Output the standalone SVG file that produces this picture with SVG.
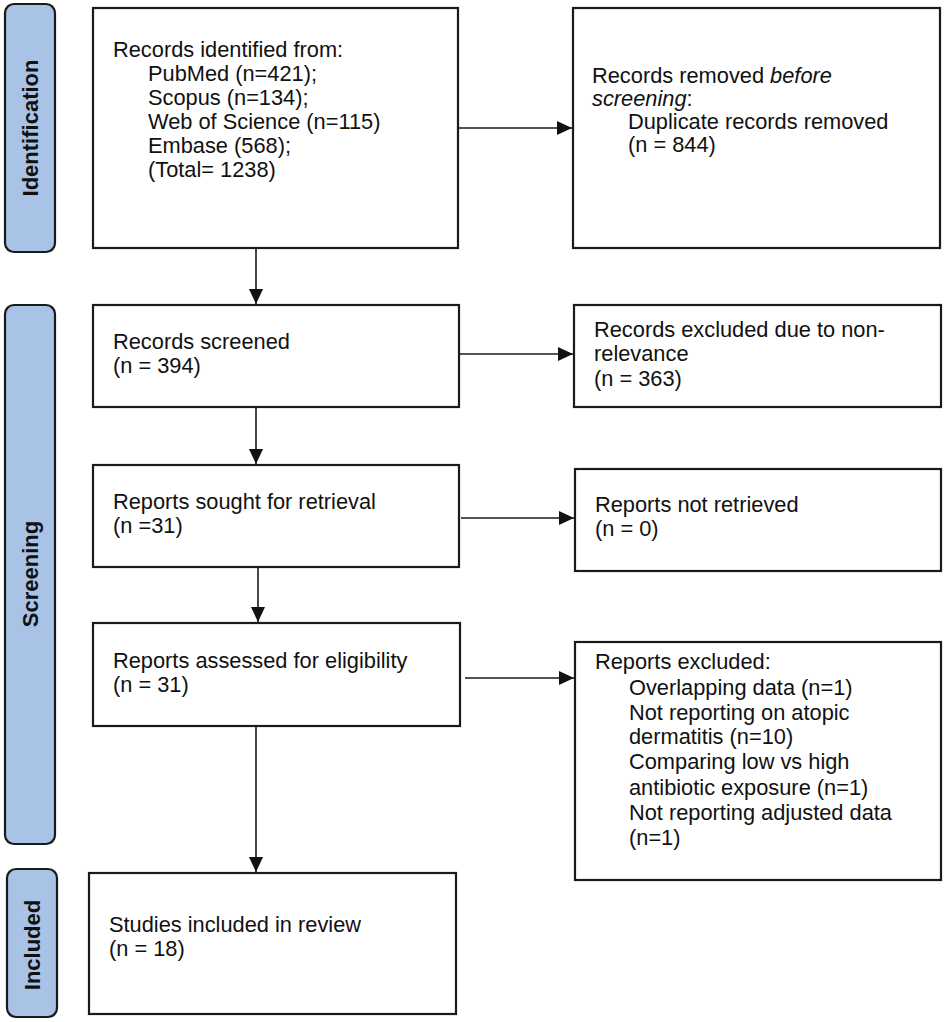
<svg xmlns="http://www.w3.org/2000/svg" width="945" height="1022" viewBox="0 0 945 1022">
<style>
.side{fill:#a9c3e7;stroke:#1a1a1a;stroke-width:2.2}
.box{fill:#fff;stroke:#1a1a1a;stroke-width:2.2}
.t{font-family:"Liberation Sans",Arial,sans-serif;font-size:21.8px;fill:#111}
.lab{font-family:"Liberation Sans",Arial,sans-serif;font-size:22px;font-weight:bold;fill:#111;text-anchor:middle}
.c{stroke:#1a1a1a;stroke-width:1.6;fill:none;marker-end:url(#ah)}
</style>
<defs>
<marker id="ah" markerUnits="userSpaceOnUse" markerWidth="15" markerHeight="14" refX="15" refY="7" orient="auto">
<path d="M0,0 L15,7 L0,14 z" fill="#111"/>
</marker>
</defs>
<rect width="945" height="1022" fill="#fff"/>

<g id="phase-identification">
<rect class="side" x="5" y="4" width="50" height="248" rx="9"/>
<text class="lab" transform="translate(38,128) rotate(-90)">Identification</text>
</g>
<g id="phase-screening">
<rect class="side" x="5" y="305" width="50" height="539" rx="9"/>
<text class="lab" transform="translate(38,574) rotate(-90)">Screening</text>
</g>
<g id="phase-included">
<rect class="side" x="7" y="869" width="50" height="148" rx="9"/>
<text class="lab" transform="translate(40,945) rotate(-90)">Included</text>
</g>

<g id="records-identified">
<rect class="box" x="93" y="8" width="365" height="240"/>
<text class="t"><tspan x="113" y="57">Records identified from:</tspan><tspan x="148" y="81">PubMed (n=421);</tspan><tspan x="148" y="105">Scopus (n=134);</tspan><tspan x="148" y="129">Web of Science (n=115)</tspan><tspan x="148" y="153">Embase (568);</tspan><tspan x="148" y="177">(Total= 1238)</tspan></text>
</g>
<g id="records-removed">
<rect class="box" x="573" y="8" width="367" height="240"/>
<text class="t"><tspan x="592" y="83">Records removed <tspan font-style="italic">before</tspan></tspan><tspan x="592" y="106"><tspan font-style="italic">screening</tspan>:</tspan><tspan x="628" y="129">Duplicate records removed</tspan><tspan x="628" y="152">(n = 844)</tspan></text>
</g>
<g id="records-screened">
<rect class="box" x="93" y="305" width="366" height="102"/>
<text class="t"><tspan x="113" y="349">Records screened</tspan><tspan x="113" y="373">(n = 394)</tspan></text>
</g>
<g id="records-excluded">
<rect class="box" x="574" y="305" width="367" height="102"/>
<text class="t"><tspan x="594" y="337">Records excluded due to non-</tspan><tspan x="594" y="361">relevance</tspan><tspan x="594" y="386">(n = 363)</tspan></text>
</g>
<g id="reports-sought">
<rect class="box" x="93" y="465" width="366" height="102"/>
<text class="t"><tspan x="113" y="509">Reports sought for retrieval</tspan><tspan x="113" y="533">(n =31)</tspan></text>
</g>
<g id="reports-not-retrieved">
<rect class="box" x="575" y="469" width="366" height="102"/>
<text class="t"><tspan x="595" y="512">Reports not retrieved</tspan><tspan x="595" y="536">(n = 0)</tspan></text>
</g>
<g id="reports-assessed">
<rect class="box" x="93" y="623" width="367" height="103"/>
<text class="t"><tspan x="113" y="668">Reports assessed for eligibility</tspan><tspan x="113" y="692">(n = 31)</tspan></text>
</g>
<g id="reports-excluded">
<rect class="box" x="575" y="642" width="366" height="238"/>
<text class="t"><tspan x="595" y="669">Reports excluded:</tspan><tspan x="629" y="695">Overlapping data (n=1)</tspan><tspan x="629" y="720">Not reporting on atopic</tspan><tspan x="629" y="744">dermatitis (n=10)</tspan><tspan x="629" y="769">Comparing low vs high</tspan><tspan x="629" y="795">antibiotic exposure (n=1)</tspan><tspan x="629" y="820">Not reporting adjusted data</tspan><tspan x="629" y="845">(n=1)</tspan></text>
</g>
<g id="studies-included">
<rect class="box" x="89" y="873" width="367" height="141"/>
<text class="t"><tspan x="109" y="932">Studies included in review</tspan><tspan x="109" y="956">(n = 18)</tspan></text>
</g>

<g id="connectors">
<line class="c" x1="459" y1="128" x2="572" y2="128"/>
<line class="c" x1="256" y1="249" x2="256" y2="304"/>
<line class="c" x1="460" y1="354" x2="573" y2="354"/>
<line class="c" x1="256" y1="408" x2="256" y2="464"/>
<line class="c" x1="461" y1="518" x2="574" y2="518"/>
<line class="c" x1="258" y1="568" x2="258" y2="622"/>
<line class="c" x1="465" y1="678" x2="574" y2="678"/>
<line class="c" x1="256" y1="727" x2="256" y2="872"/>
</g>
</svg>
